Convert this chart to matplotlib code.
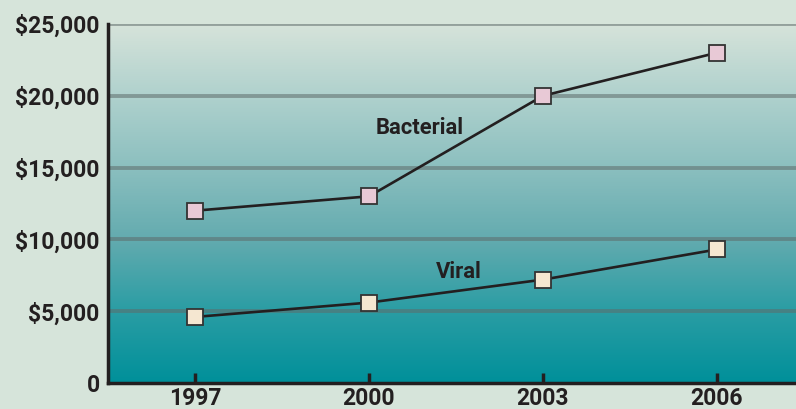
import matplotlib
matplotlib.use("Agg")
import matplotlib.pyplot as plt
import numpy as np
from matplotlib.colors import LinearSegmentedColormap

years = [1997, 2000, 2003, 2006]
bacterial = [12000, 13000, 20000, 23000]
viral = [4600, 5600, 7200, 9300]
yticks = [0, 5000, 10000, 15000, 20000, 25000]
ytick_labels = ["0", "$5,000", "$10,000", "$15,000", "$20,000", "$25,000"]

plt.rcParams['font.family'] = ['Roboto', 'DejaVu Sans']

fig = plt.figure(figsize=(7.96, 4.09), dpi=100)
fig.patch.set_facecolor('#d6e4da')
ax = fig.add_axes([108/796, 26/409, (796-108)/796 + 0.01, 359/409])

xlim = (1995.5, 2007.5)
ylim = (0, 25000)
cmap = LinearSegmentedColormap.from_list(
    'bg', [(0.0, '#00909a'), (0.2, '#2a9da4'), (0.4, '#63abaf'), (0.6, '#8bbfbf'),
           (0.8, '#afd1cd'), (1.0, '#d6e3da')])
grad = np.linspace(0, 1, 256).reshape(-1, 1)
ax.imshow(grad, aspect='auto', cmap=cmap, extent=[xlim[0], xlim[1], ylim[0], ylim[1]],
          origin='lower', zorder=0)
ax.set_xlim(*xlim)
ax.set_ylim(ylim[0], ylim[1])

for yv in yticks[1:]:
    ax.axhline(yv, color='#5e6b6a', alpha=0.55, lw=2.8, zorder=1)

ax.plot(years, bacterial, color='#231f20', lw=1.9, zorder=3, marker='s', markersize=11,
        markerfacecolor='#e8c9d6', markeredgecolor='#333333', markeredgewidth=1.3)
ax.plot(years, viral, color='#231f20', lw=1.9, zorder=3, marker='s', markersize=11,
        markerfacecolor='#f5e7d1', markeredgecolor='#333333', markeredgewidth=1.3)

ax.text(2000.88, 17750, 'Bacterial', fontsize=15.8, fontweight='bold', color='#231f20',
        ha='center', va='center', zorder=4)
ax.text(2001.55, 7750, 'Viral', fontsize=15.8, fontweight='bold', color='#231f20',
        ha='center', va='center', zorder=4)

ax.set_xticks(years)
ax.set_xticklabels([str(y) for y in years])
ax.set_yticks(yticks)
ax.set_yticklabels(ytick_labels)
ax.tick_params(axis='x', direction='in', length=7, width=2.5, color='#231f20',
               labelsize=16.5, pad=3, labelcolor='#231f20')
ax.tick_params(axis='y', length=0, labelsize=16.5, pad=6, labelcolor='#231f20')
for lab in ax.get_xticklabels() + ax.get_yticklabels():
    lab.set_fontweight('bold')

for s in ['top', 'right']:
    ax.spines[s].set_visible(False)
for s in ['left', 'bottom']:
    ax.spines[s].set_linewidth(2.5)
    ax.spines[s].set_color('#231f20')
    ax.spines[s].set_zorder(5)

fig.savefig('out.png', dpi=100, facecolor=fig.get_facecolor())
